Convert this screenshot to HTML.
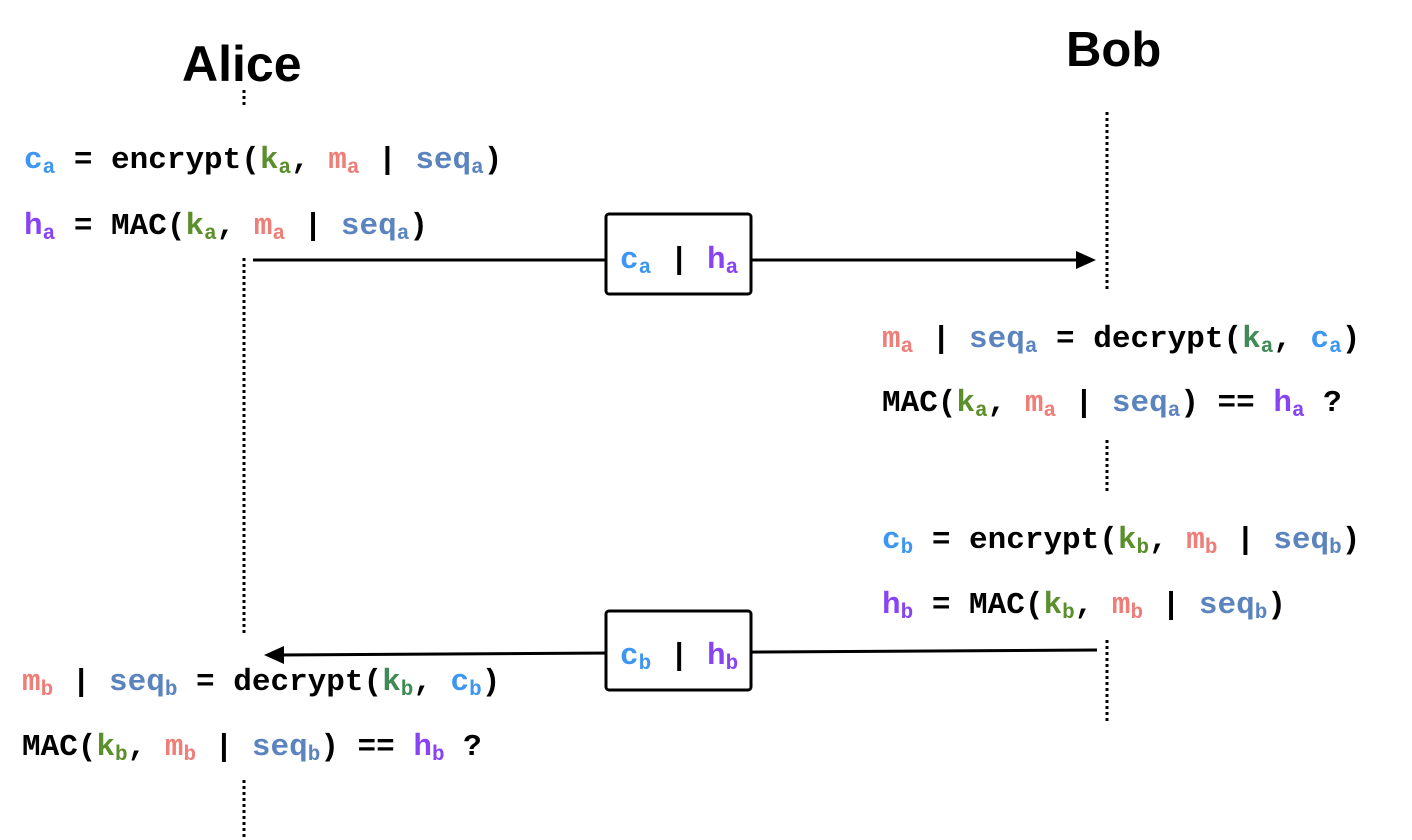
<!DOCTYPE html>
<html><head><meta charset="utf-8"><style>
body{margin:0;width:1412px;height:840px;background:#fff;position:relative;overflow:hidden}
.t{position:absolute;font-family:"Liberation Mono",monospace;font-weight:bold;font-size:31px;white-space:pre;line-height:1;color:#000}
.t sub{font-size:21px;vertical-align:-5px;line-height:0}
.n{position:absolute;font-family:"Liberation Sans",sans-serif;font-weight:bold;font-size:49px;line-height:1}
.c{color:#3d97f2}.h{color:#8843f5}.k{color:#5a8f2c}.k2{color:#3f8a55}.m{color:#ee7e77}.s{color:#5b84bf}
</style></head><body>
<svg width="1412" height="840" style="position:absolute;left:0;top:0">
<g stroke="#000" stroke-width="3" stroke-dasharray="3 3" fill="none">
<line x1="244" y1="90" x2="244" y2="108"/>
<line x1="244" y1="258" x2="244" y2="636"/>
<line x1="244" y1="780" x2="244" y2="838"/>
<line x1="1107" y1="112" x2="1107" y2="292"/>
<line x1="1107" y1="440" x2="1107" y2="492"/>
<line x1="1107" y1="640" x2="1107" y2="722"/>
</g>
<line x1="253" y1="260" x2="1080" y2="260" stroke="#000" stroke-width="3"/>
<polygon points="1096,260 1076,251 1076,269" fill="#000"/>
<line x1="1097" y1="650" x2="280" y2="655" stroke="#000" stroke-width="3"/>
<polygon points="264,655 284,646 284,664" fill="#000"/>
<rect x="606" y="214" width="145" height="80" rx="3" fill="#fff" stroke="#000" stroke-width="3"/>
<rect x="606" y="611" width="145" height="79" rx="3" fill="#fff" stroke="#000" stroke-width="3"/>
</svg>
<div class="n" style="left:182px;top:39px;font-size:50px">Alice</div>
<div class="n" style="left:1066px;top:26px">Bob</div>

<div class="t" style="left:24px;top:145px"><span class="c">c<sub>a</sub></span> = encrypt(<span class="k">k<sub>a</sub></span>, <span class="m">m<sub>a</sub></span> | <span class="s">seq<sub>a</sub></span>)</div>
<div class="t" style="left:24px;top:211px"><span class="h">h<sub>a</sub></span> = MAC(<span class="k">k<sub>a</sub></span>, <span class="m">m<sub>a</sub></span> | <span class="s">seq<sub>a</sub></span>)</div>

<div class="t" style="left:620px;top:245px"><span class="c">c<sub>a</sub></span> | <span class="h">h<sub>a</sub></span></div>
<div class="t" style="left:620px;top:641px"><span class="c">c<sub>b</sub></span> | <span class="h">h<sub>b</sub></span></div>

<div class="t" style="left:882px;top:324px"><span class="m">m<sub>a</sub></span> | <span class="s">seq<sub>a</sub></span> = decrypt(<span class="k2">k<sub>a</sub></span>, <span class="c">c<sub>a</sub></span>)</div>
<div class="t" style="left:882px;top:388px">MAC(<span class="k">k<sub>a</sub></span>, <span class="m">m<sub>a</sub></span> | <span class="s">seq<sub>a</sub></span>) == <span class="h">h<sub>a</sub></span> ?</div>

<div class="t" style="left:882px;top:525px"><span class="c">c<sub>b</sub></span> = encrypt(<span class="k">k<sub>b</sub></span>, <span class="m">m<sub>b</sub></span> | <span class="s">seq<sub>b</sub></span>)</div>
<div class="t" style="left:882px;top:590px"><span class="h">h<sub>b</sub></span> = MAC(<span class="k">k<sub>b</sub></span>, <span class="m">m<sub>b</sub></span> | <span class="s">seq<sub>b</sub></span>)</div>

<div class="t" style="left:22px;top:667px"><span class="m">m<sub>b</sub></span> | <span class="s">seq<sub>b</sub></span> = decrypt(<span class="k2">k<sub>b</sub></span>, <span class="c">c<sub>b</sub></span>)</div>
<div class="t" style="left:22px;top:732px">MAC(<span class="k">k<sub>b</sub></span>, <span class="m">m<sub>b</sub></span> | <span class="s">seq<sub>b</sub></span>) == <span class="h">h<sub>b</sub></span> ?</div>
</body></html>
